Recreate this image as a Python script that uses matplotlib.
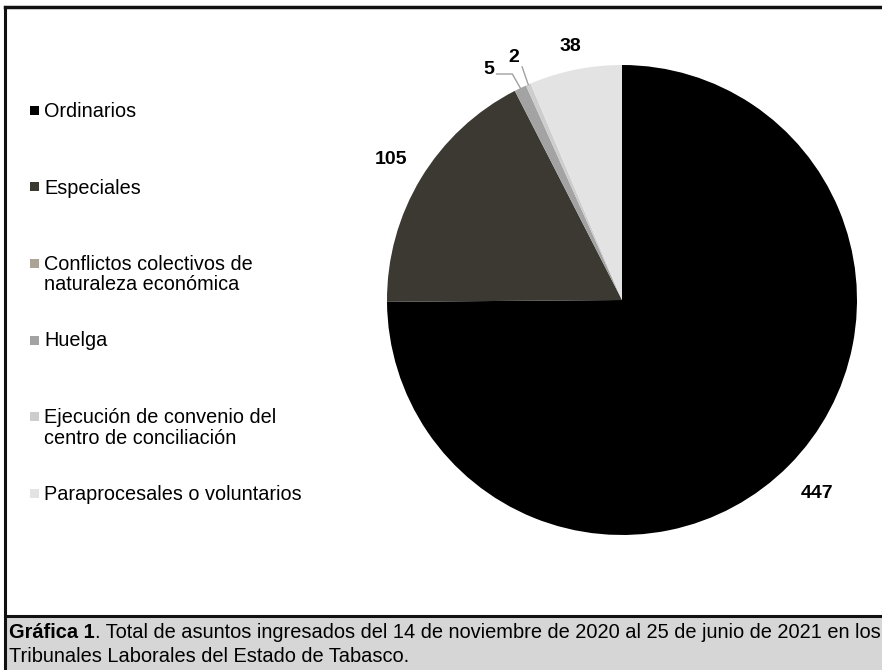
import numpy as np
import matplotlib.pyplot as plt
from matplotlib.patches import Rectangle
from matplotlib.lines import Line2D

plt.rcParams['font.family'] = ['Liberation Sans', 'DejaVu Sans']

# ==================== datos ====================
categorias = ['Ordinarios',
              'Especiales',
              'Conflictos colectivos de\nnaturaleza económica',
              'Huelga',
              'Ejecución de convenio del\ncentro de conciliación',
              'Paraprocesales o voluntarios']
asuntos = [447, 105, 0, 5, 2, 38]
colores = ['#000000', '#3c3933', '#aaa396', '#a3a3a3', '#cdcdcd', '#e3e3e3']

W, H = 882, 670
fig = plt.figure(figsize=(W / 100, H / 100), dpi=100)


def fx(px):
    return px / W


def fy(py):
    return 1 - py / H


# ==================== pastel ====================
cx, cy, r = 622, 300, 235
ax = fig.add_axes([fx(cx - r), fy(cy + r), 2 * r / W, 2 * r / H])
wedges, _ = ax.pie(asuntos, colors=colores, startangle=90, counterclock=False,
                   radius=1, wedgeprops=dict(linewidth=0))
ax.set_xlim(-1, 1)
ax.set_ylim(-1, 1)

dist = {447: 1.17, 105: 1.15, 38: 1.10}
for w, v in zip(wedges, asuntos):
    if v == 0:
        continue
    ang = np.deg2rad((w.theta1 + w.theta2) / 2)
    ex, ey = np.cos(ang), np.sin(ang)
    if v in dist:
        ax.text(dist[v] * ex, dist[v] * ey, str(v), ha='center', va='center',
                fontsize=14, fontweight='bold')
    elif v == 5:
        bx, by = ex - 0.034, ey + 0.06
        ax.plot([ex, bx, bx - 0.067], [ey, by, by], color='#a0a0a0', lw=1)
        ax.text(bx - 0.075, by + 0.02, str(v), ha='right', va='center',
                fontsize=14, fontweight='bold')
    else:
        bx, by = ex - 0.026, ey + 0.075
        ax.plot([ex, bx], [ey, by], color='#a0a0a0', lw=1)
        ax.text(bx - 0.035, by + 0.005, str(v), ha='center', va='bottom',
                fontsize=14, fontweight='bold')

# ==================== leyenda ====================
for i, (cat, col) in enumerate(zip(categorias, colores)):
    top = 102 + 76.5 * i
    fig.text(fx(44), fy(top), cat, ha='left', va='top', fontsize=14.3,
             linespacing=1.1)
    fig.add_artist(Rectangle((fx(30), fy(top + 13)), 9 / W, 9 / H,
                             transform=fig.transFigure, fc=col, ec='none'))

# ==================== marco y pie de gráfica ====================
fig.add_artist(Rectangle((fx(5), 0), 1, fy(616), transform=fig.transFigure,
                         fc='#d6d6d6', ec='none'))
fig.add_artist(Line2D([fx(5), 1], [fy(616), fy(616)], color='#111111', lw=2.2))
fig.add_artist(Line2D([fx(5), 1], [fy(7), fy(7)], color='#111111', lw=2.5))
fig.add_artist(Line2D([fx(5), fx(5)], [fy(7), 0], color='#111111', lw=2.2))

t1 = fig.text(fx(9), fy(633), 'Gráfica 1', ha='left', va='center',
              fontsize=14.4, fontweight='bold')
fig.canvas.draw()
bb = t1.get_window_extent()
fig.text(bb.x1 / W, fy(633),
         '. Total de asuntos ingresados del 14 de noviembre de 2020 al 25 de junio de 2021 en los',
         ha='left', va='center', fontsize=14.4)
fig.text(fx(9), fy(657), 'Tribunales Laborales del Estado de Tabasco.',
         ha='left', va='center', fontsize=14.4)

fig.savefig('out.png', dpi=100)
